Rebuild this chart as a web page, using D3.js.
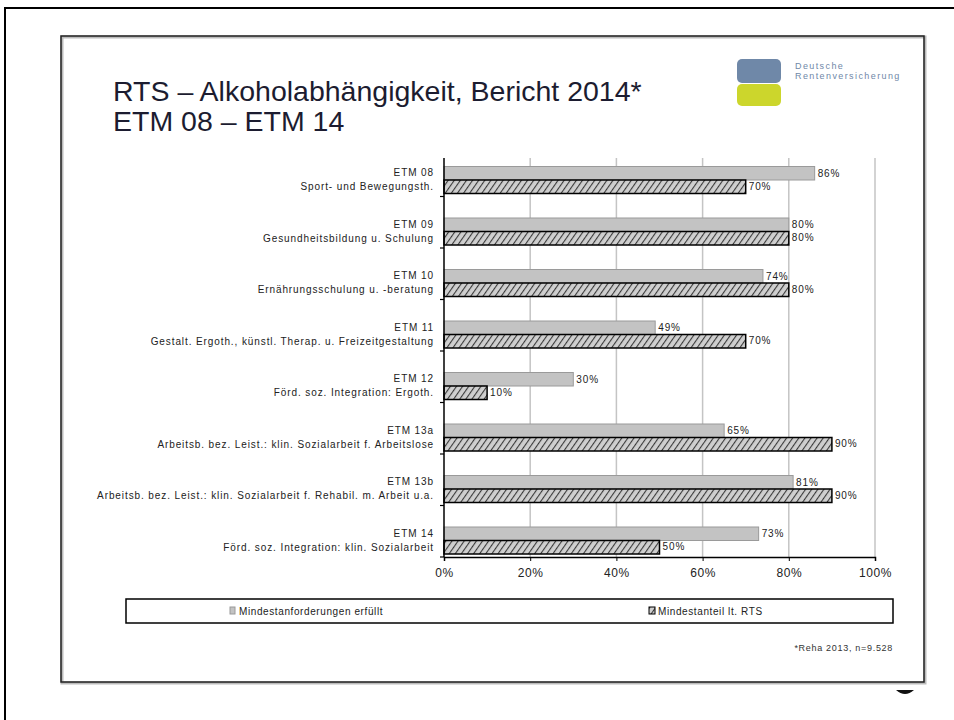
<!DOCTYPE html>
<html>
<head>
<meta charset="utf-8">
<script src="https://cdn.jsdelivr.net/npm/d3@7"></script>
<style>
  body { margin: 0; background: #fff; }
  svg { display: block; font-family: "Liberation Sans", Arial, sans-serif; }
</style>
</head>
<body>
<svg id="chart" width="954" height="720"></svg>
<script>
// chart values
var codes = ["ETM 08", "ETM 09", "ETM 10", "ETM 11", "ETM 12", "ETM 13a", "ETM 13b", "ETM 14"];
var names = [
    "Sport- und Bewegungsth.",
    "Gesundheitsbildung u. Schulung",
    "Ernährungsschulung u. -beratung",
    "Gestalt. Ergoth., künstl. Therap. u. Freizeitgestaltung",
    "Förd. soz. Integration: Ergoth.",
    "Arbeitsb. bez. Leist.: klin. Sozialarbeit f. Arbeitslose",
    "Arbeitsb. bez. Leist.: klin. Sozialarbeit f. Rehabil. m. Arbeit u.a.",
    "Förd. soz. Integration: klin. Sozialarbeit"
];
var erfuellt = [86, 80, 74, 49, 30, 65, 81, 73];
var mindestanteil = [70, 80, 80, 70, 10, 90, 90, 50];
var xTicks = [0, 20, 40, 60, 80, 100];
var seriesNames = ["Mindestanforderungen erfüllt", "Mindestanteil lt. RTS"];

var svg = d3.select("#chart");

// hatch pattern for the second series
var defs = svg.append("defs");
var pat = defs.append("pattern")
    .attr("id", "hatch")
    .attr("patternUnits", "userSpaceOnUse")
    .attr("width", 5).attr("height", 5)
    .attr("patternTransform", "rotate(35)");
pat.append("rect").attr("width", 5).attr("height", 5).attr("fill", "#cfcfcf");
pat.append("line")
    .attr("x1", 0).attr("y1", 0).attr("x2", 0).attr("y2", 5)
    .attr("stroke", "#3a3a3a").attr("stroke-width", 2.2);

// page frame and slide box
svg.append("path")
    .attr("d", "M5,720 V8 H954")
    .attr("fill", "none").attr("stroke", "#000").attr("stroke-width", 2);
svg.append("rect")
    .attr("x", 62).attr("y", 37).attr("width", 863).attr("height", 646)
    .attr("fill", "none").attr("stroke", "#bbb").attr("stroke-width", 3);
svg.append("rect")
    .attr("x", 61).attr("y", 36).attr("width", 863).attr("height", 646)
    .attr("fill", "none").attr("stroke", "#222").attr("stroke-width", 1.5);
svg.append("path")
    .attr("d", "M896,690 Q905,698 914,690 Z")
    .attr("fill", "#111");

// title
var title = svg.append("text")
    .attr("x", 113).attr("y", 101)
    .attr("font-size", 28.5).attr("fill", "#1c1c30");
title.append("tspan").text("RTS – Alkoholabhängigkeit, Bericht 2014*");
title.append("tspan").attr("x", 113).attr("dy", 30).text("ETM 08 – ETM 14");

// logo
svg.append("rect").attr("x", 737).attr("y", 59).attr("width", 44).attr("height", 24)
    .attr("rx", 5).attr("fill", "#6f88a8");
svg.append("rect").attr("x", 737).attr("y", 84).attr("width", 44).attr("height", 22)
    .attr("rx", 5).attr("fill", "#ccd62c");
svg.append("text").attr("x", 795).attr("y", 69).attr("font-size", 9)
    .attr("letter-spacing", 1.4).attr("fill", "#6f88a8").text("Deutsche");
svg.append("text").attr("x", 795).attr("y", 79).attr("font-size", 9)
    .attr("letter-spacing", 1.4).attr("fill", "#6f88a8").text("Rentenversicherung");

// scales
var x = d3.scaleLinear().domain([0, 100]).range([444, 875]);
var y = d3.scaleBand().domain(codes).range([145, 557]);
var plotTop = 158;
var bw = y.bandwidth();

// gridlines
svg.append("g").selectAll("line")
    .data(xTicks.slice(1))
    .enter().append("line")
    .attr("x1", function(d) { return x(d); })
    .attr("x2", function(d) { return x(d); })
    .attr("y1", plotTop).attr("y2", 557)
    .attr("stroke", "#c4c4c4").attr("stroke-width", 1.5);

// x axis
var xAxis = svg.append("g")
    .attr("transform", "translate(0,557)")
    .call(d3.axisBottom(x).tickValues(xTicks).tickSize(4)
        .tickFormat(function(d) { return d + "%"; }));
xAxis.select(".domain").attr("stroke", "#000").attr("stroke-width", 1.5);
xAxis.selectAll(".tick line").attr("stroke", "#000");
xAxis.selectAll(".tick text")
    .attr("font-size", 12).attr("letter-spacing", 0.6).attr("fill", "#222").attr("dy", "1.1em")
    .attr("font-family", "Liberation Sans, Arial, sans-serif");

// bars
var rows = codes.map(function(c, i) {
    return {code: c, name: names[i], a: erfuellt[i], b: mindestanteil[i]};
});

var gA = 21.5, gB = 35, bh = 13.5;

svg.append("g").selectAll("rect")
    .data(rows)
    .enter().append("rect")
    .attr("x", x(0))
    .attr("y", function(d) { return y(d.code) + gA; })
    .attr("width", function(d) { return x(d.a) - x(0); })
    .attr("height", bh)
    .attr("fill", "#c3c3c3").attr("stroke", "#9a9a9a").attr("stroke-width", 1);

svg.append("g").selectAll("rect")
    .data(rows)
    .enter().append("rect")
    .attr("x", x(0))
    .attr("y", function(d) { return y(d.code) + gB; })
    .attr("width", function(d) { return x(d.b) - x(0); })
    .attr("height", bh)
    .attr("fill", "url(#hatch)").attr("stroke", "#000").attr("stroke-width", 1.5);

// value labels
var vl = svg.append("g").attr("font-size", 10).attr("letter-spacing", 0.9).attr("fill", "#222");
vl.selectAll(".va")
    .data(rows).enter().append("text")
    .attr("x", function(d) { return x(d.a) + 3; })
    .attr("y", function(d) { return y(d.code) + gA + bh / 2 + 3.5; })
    .text(function(d) { return d.a + "%"; });
vl.selectAll(".vb")
    .data(rows).enter().append("text")
    .attr("x", function(d) { return x(d.b) + 3; })
    .attr("y", function(d) { return y(d.code) + gB + bh / 2 + 3; })
    .text(function(d) { return d.b + "%"; });

// y axis with category labels
svg.append("line")
    .attr("x1", x(0)).attr("x2", x(0)).attr("y1", plotTop).attr("y2", 557)
    .attr("stroke", "#000").attr("stroke-width", 1.5);
svg.append("g").selectAll("line")
    .data(codes).enter().append("line")
    .attr("x1", x(0) - 4).attr("x2", x(0))
    .attr("y1", function(d) { return y(d) + bw; })
    .attr("y2", function(d) { return y(d) + bw; })
    .attr("stroke", "#000").attr("stroke-width", 1.2);

var yl = svg.append("g").attr("font-size", 10).attr("letter-spacing", 0.9)
    .attr("fill", "#222").attr("text-anchor", "end");
yl.selectAll(".code")
    .data(rows).enter().append("text")
    .attr("x", 434)
    .attr("y", function(d) { return y(d.code) + gA + bh / 2 + 3; })
    .text(function(d) { return d.code; });
yl.selectAll(".name")
    .data(rows).enter().append("text")
    .attr("x", 434)
    .attr("y", function(d) { return y(d.code) + gB + bh / 2 + 3.5; })
    .text(function(d) { return d.name; });

// legend
svg.append("rect")
    .attr("x", 126).attr("y", 599).attr("width", 767).attr("height", 24)
    .attr("fill", "#fff").attr("stroke", "#000").attr("stroke-width", 1.5);
svg.append("rect").attr("x", 230).attr("y", 607).attr("width", 5).attr("height", 7)
    .attr("fill", "#c3c3c3").attr("stroke", "#9a9a9a");
svg.append("rect").attr("x", 649).attr("y", 607).attr("width", 6).attr("height", 7)
    .attr("fill", "url(#hatch)").attr("stroke", "#000");
svg.append("text").attr("x", 239).attr("y", 614.5).attr("font-size", 10)
    .attr("letter-spacing", 0.6).attr("fill", "#222")
    .text(seriesNames[0]);
svg.append("text").attr("x", 658).attr("y", 614.5).attr("font-size", 10)
    .attr("letter-spacing", 0.6).attr("fill", "#222")
    .text(seriesNames[1]);

// footnote
svg.append("text").attr("x", 893).attr("y", 651).attr("text-anchor", "end")
    .attr("font-size", 9).attr("letter-spacing", 0.7).attr("fill", "#333")
    .text("*Reha 2013, n=9.528");
</script>
</body>
</html>
